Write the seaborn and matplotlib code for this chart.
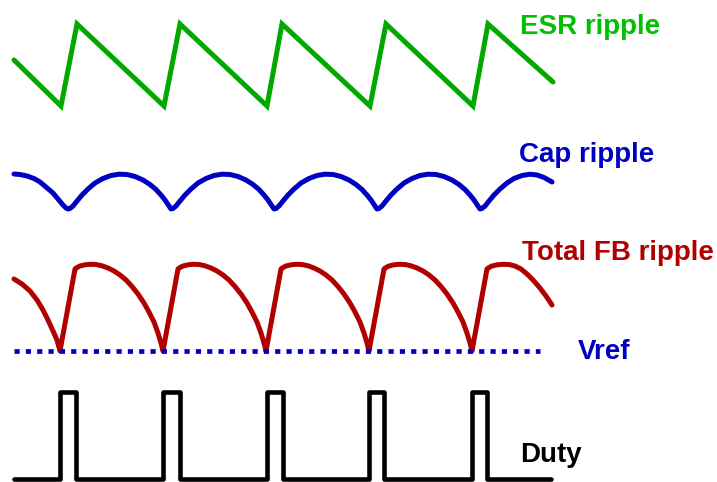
import numpy as np
import pandas as pd
import matplotlib
matplotlib.use("Agg")
import matplotlib.pyplot as plt
import seaborn as sns

# waveform points, in pixel units (y grows downwards)
esr_x = [14, 61, 77, 164, 180, 267, 282, 370, 386, 473, 488, 553]
esr_y = [60, 106, 24, 106, 24, 106, 24, 106, 24, 106, 24, 82]

# cap ripple: one arch between two minima, plus the partial ends
cap_minima = [68, 171, 274, 377, 480]
cap_arch_dx = [0, 2, 5, 9, 14, 20, 27, 35, 43, 51, 59, 67, 75, 82, 88, 93, 97,
               100, 102, 103]
cap_arch_y = [209, 208.5, 206, 201, 195, 189, 183, 178.5, 175.5, 174.2, 174.5,
              176.5, 180, 184.5, 189.5, 195, 200, 204.5, 207.5, 209]
cap_start_x = [14, 20, 27, 34, 40, 46, 53, 58, 63, 66]
cap_start_y = [174, 174.5, 176, 178.5, 182, 187, 193, 199, 205, 208]
cap_end_x = [482, 485, 489, 494, 500, 507, 514, 522, 530, 537, 544, 552]
cap_end_y = [208.5, 206, 201, 195, 189, 183, 178.5, 175.5, 174.2, 175, 177.5, 182]

# total FB ripple, same layout
fb_minima = [60, 163, 266, 369, 472]
fb_arch_dx = [0, 15, 17, 20, 25, 30, 36, 42, 48, 54, 60, 66, 72, 78, 84, 89,
              94, 98, 101, 103]
fb_arch_y = [351, 269, 267.5, 266, 264.8, 264.3, 264.5, 265.8, 268, 271, 275,
             280, 286.5, 294, 303, 312, 322, 333, 343, 351]
fb_start_x = [14, 22, 30, 37, 43, 48, 53, 57]
fb_start_y = [279, 284, 291, 300, 310, 320, 331, 340]
fb_end_x = [487, 489, 492, 497, 503, 509, 515, 521, 527, 533, 540, 546, 552]
fb_end_y = [269, 267.5, 266, 264.8, 264.3, 264.5, 266, 269, 274, 280, 288,
            296, 305]

vref_x = [14, 540]
vref_y = [351, 351]

# duty pulses (rise, fall)
duty_rise = [60, 163, 267, 369, 472]
duty_fall = [76, 180, 283, 384, 487]
duty_low, duty_high = 479, 392
duty_start, duty_end = 14, 551


def build_ripple(start_x, start_y, minima, arch_dx, arch_y, end_x, end_y):
    xs, ys = list(start_x), list(start_y)
    for m in minima[:-1]:
        xs += [m + d for d in arch_dx[:-1]]
        ys += arch_y[:-1]
    xs.append(minima[-1])
    ys.append(arch_y[0])
    return xs + end_x, ys + end_y


cap_x, cap_y = build_ripple(cap_start_x, cap_start_y, cap_minima,
                            cap_arch_dx, cap_arch_y, cap_end_x, cap_end_y)
fb_x, fb_y = build_ripple(fb_start_x, fb_start_y, fb_minima,
                          fb_arch_dx, fb_arch_y, fb_end_x, fb_end_y)

duty_x, duty_y = [duty_start], [duty_low]
for r, f in zip(duty_rise, duty_fall):
    duty_x += [r, r, f, f]
    duty_y += [duty_low, duty_high, duty_high, duty_low]
duty_x.append(duty_end)
duty_y.append(duty_low)

sns.set_style("white")
plt.rcParams['font.family'] = ['Liberation Sans', 'DejaVu Sans']

fig = plt.figure(figsize=(7.17, 4.82), dpi=100)
ax = fig.add_axes([0, 0, 1, 1])

green = '#00A800'
blue = '#0000C0'
red = '#B00000'

sns.lineplot(x=esr_x, y=esr_y, sort=False, estimator=None, color=green,
             lw=3.6, ax=ax, solid_joinstyle='miter')
sns.lineplot(x=cap_x, y=cap_y, sort=False, estimator=None, color=blue,
             lw=3.6, ax=ax, solid_joinstyle='round')
sns.lineplot(x=fb_x, y=fb_y, sort=False, estimator=None, color=red,
             lw=3.6, ax=ax, solid_joinstyle='round')
sns.lineplot(x=vref_x, y=vref_y, sort=False, estimator=None, color=blue,
             lw=3.4, ax=ax, linestyle=(0, (1.1, 1.3)), dash_capstyle='butt')
sns.lineplot(x=duty_x, y=duty_y, sort=False, estimator=None, color='black',
             lw=3.3, ax=ax, solid_joinstyle='round')

txt = dict(fontsize=20, fontweight='bold', ha='left', va='baseline')
ax.text(520, 34, 'ESR ripple', color='#00C000', **txt)
ax.text(519, 162, 'Cap ripple', color=blue, **txt)
ax.text(522, 260, 'Total FB ripple', color=red, **txt)
ax.text(578, 359, 'Vref', color=blue, **txt)
ax.text(520, 462, 'Duty', color='black', **txt)

ax.set_xlim(0, 717)
ax.set_ylim(482, 0)
ax.axis('off')
if ax.get_legend():
    ax.get_legend().remove()

fig.savefig('out.png', dpi=100)
